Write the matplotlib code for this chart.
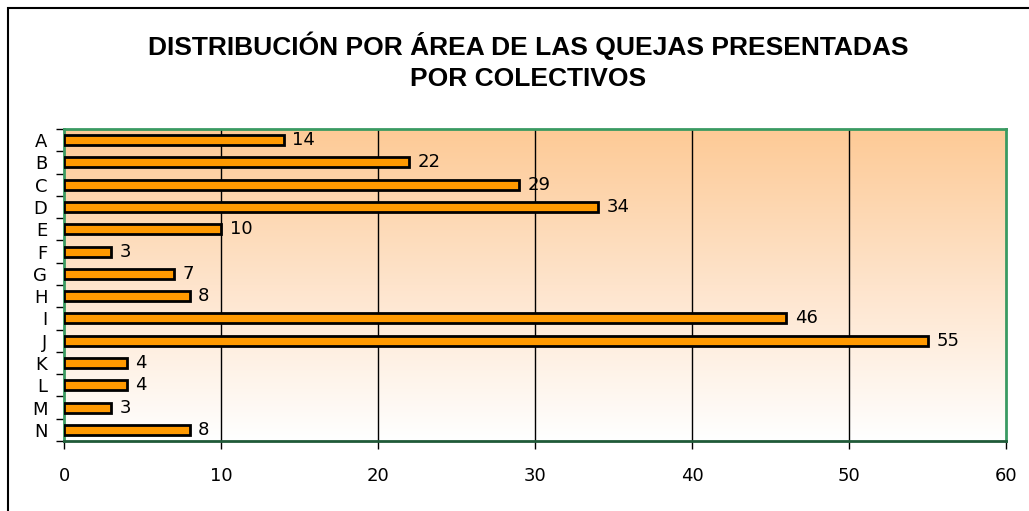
import numpy as np
import matplotlib
matplotlib.use("Agg")
import matplotlib.pyplot as plt
from matplotlib.patches import Rectangle
from matplotlib.colors import LinearSegmentedColormap

categories = ["A", "B", "C", "D", "E", "F", "G", "H", "I", "J", "K", "L", "M", "N"]
values = [14, 22, 29, 34, 10, 3, 7, 8, 46, 55, 4, 4, 3, 8]
x_ticks = [0, 10, 20, 30, 40, 50, 60]
title = "DISTRIBUCIÓN POR ÁREA DE LAS QUEJAS PRESENTADAS\nPOR COLECTIVOS"

W, H = 1029, 511
fig = plt.figure(figsize=(W / 100, H / 100), dpi=100)
fig.patch.set_facecolor("white")

# outer border (only left/top visible)
fig.patches.append(Rectangle((8 / W, -0.1), 1.2, 1 - 8 / H + 0.1, transform=fig.transFigure,
                             fill=False, edgecolor="black", linewidth=1.5))

ax = fig.add_axes([64 / W, 1 - 441 / H, (1006 - 64) / W, (441 - 129) / H])

n = len(categories)
ax.set_xlim(0, 60)
ax.set_ylim(n - 0.5, -0.5)

# gradient background
cmap = LinearSegmentedColormap.from_list("bg", ["#FDCA96", "#FEE4CC", "#FFFFFF"])
grad = np.linspace(0, 1, 256).reshape(-1, 1)
ax.imshow(grad, aspect="auto", cmap=cmap, extent=[0, 60, n - 0.5, -0.5], zorder=0)

for xv in x_ticks[1:-1]:
    ax.axvline(xv, color="black", linewidth=1.0, zorder=1)

y = np.arange(n)
ax.barh(y, values, height=0.45, color="#FF9900", edgecolor="black", linewidth=2.0, zorder=3)

for yi, v in zip(y, values):
    ax.text(v + 0.55, yi, str(v), va="center", ha="left", fontsize=13, family="DejaVu Sans", zorder=4)

for s in ax.spines.values():
    s.set_color("#3A9A62")
    s.set_linewidth(2)
ax.spines["bottom"].set_color("#1F5A38")

ax.set_xticks(x_ticks)
ax.set_xticklabels([str(t) for t in x_ticks], fontsize=13)
ax.tick_params(axis="x", length=6, width=1, color="black", pad=13)

ax.set_yticks(np.arange(n + 1) - 0.5)
ax.set_yticklabels([])
ax.tick_params(axis="y", which="major", length=6, width=1, color="black")
ax.set_yticks(y, minor=True)
ax.set_yticklabels(categories, minor=True, fontsize=13)
ax.tick_params(axis="y", which="minor", length=0, pad=12)

fig.text(528 / W, 1 - 61 / H, title, ha="center", va="center", fontsize=19, fontweight="bold",
         family="Liberation Sans", linespacing=1.35)

fig.savefig("out.png", dpi=100)
